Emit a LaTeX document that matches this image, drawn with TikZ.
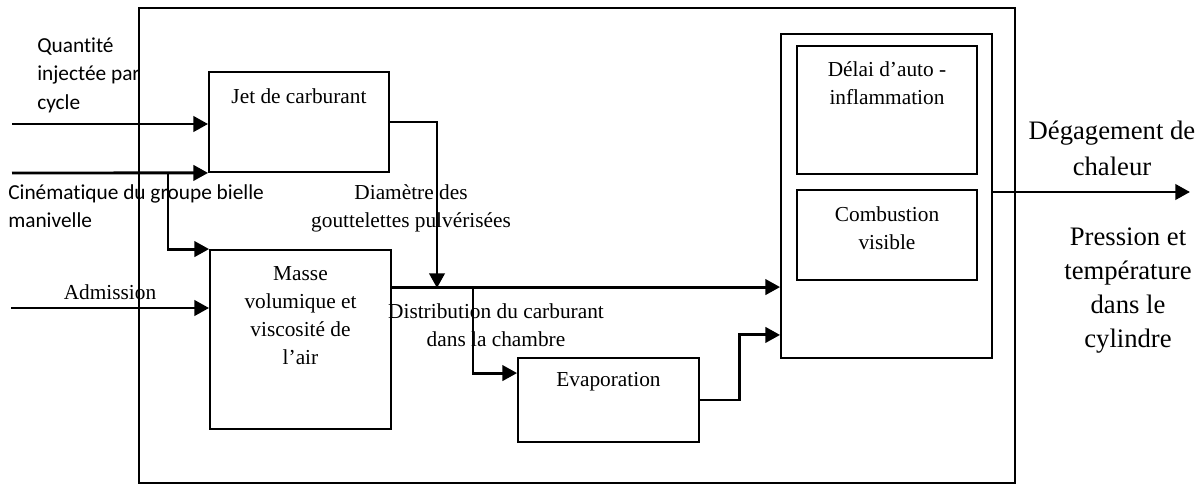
\documentclass[tikz,border=0pt]{standalone}
\usepackage{fontspec}
\setmainfont{Liberation Serif}
\newfontfamily\calibri[Ligatures = NoCommon]{Carlito}
\usepackage{tikz}
\usetikzlibrary{arrows.meta, positioning, calc}

\tikzstyle{boite} = [
    rectangle,
    draw = black,
    line width = 1.4pt,
    inner sep = 0pt,
]
\tikzstyle{texte} = [
    inner sep = 0pt,
    align = center,
    font = \fontsize{16}{21}\selectfont,
]
\tikzstyle{fleche} = [
    line width = 2.2pt,
    -{Triangle[length = 11pt, width = 11.5pt]},
]

\begin{document}
\begin{tikzpicture} [x = 0.75pt, y = -0.75pt]
    \useasboundingbox (0, 0) rectangle (1202, 485);

    \node (Cadre) [boite, minimum width = 657pt, minimum height = 356.25pt] at (577, 245.5) {};

    \node (Jet) [boite, minimum width = 135pt, minimum height = 75pt] at (299, 122) {};
    \node (Masse) [boite, minimum width = 135.75pt, minimum height = 134.25pt] at (300.5, 339.5) {};
    \node (Evaporation) [boite, minimum width = 135.75pt, minimum height = 63pt] at (608.5, 400) {};
    \node (Chambre) [boite, minimum width = 158.25pt, minimum height = 243pt] at (886.5, 196) {};
    \node (Delai) [boite, minimum width = 135pt, minimum height = 96pt] at (887, 110) {};
    \node (Combustion) [boite, minimum width = 135pt, minimum height = 67.5pt] at (887, 235) {};

    % textes des boites
    \node (TexteJet) [texte, below = 12.75pt of Jet.north] {Jet de carburant};
    \node (TexteMasse) [texte, below = 12.75pt of Masse.north] {Masse\\volumique et\\viscosité de\\l’air};
    \node (TexteEvaporation) [texte, below = 11.25pt of Evaporation.north] {Evaporation};
    \node (TexteDelai) [texte, below = 12pt of Delai.north] {Délai d’auto -\\inflammation};
    \node (TexteCombustion) [texte, below = 12.75pt of Combustion.north] {Combustion\\visible};

    % textes des liaisons
    \node (Quantite) [texte, align = left, anchor = west, font = \calibri\fontsize{16}{21.4}\selectfont] at (37, 75) {Quantité\\injectée par\\cycle};
    \node (Cinematique) [texte, align = left, anchor = west, font = \calibri\fontsize{16}{21}\selectfont] at (8, 206) {Cinématique du groupe bielle\\manivelle};
    \node (Admission) [texte] at (110, 292) {Admission};
    \node (Diametre) [texte] at (411, 208) {Diamètre des\\gouttelettes pulvérisées};
    \node (Distribution) [texte] at (496, 325) {Distribution du carburant\\dans la chambre};
    \node (Degagement) [texte, font = \fontsize{20}{27}\selectfont] at (1112, 148) {Dégagement de\\chaleur};
    \node (Pression) [texte, font = \fontsize{20}{25.5}\selectfont] at (1128, 291) {Pression et\\température\\dans le\\cylindre};

    \coordinate (EntreeQuantite) at (12, 124);
    \coordinate (EntreeCinematique) at (12, 173);
    \coordinate (BrancheCinematique) at (168, 173);
    \coordinate (EntreeAdmission) at (11, 308);
    \coordinate (SortieMasse) at ($(Masse.north east) + (0, 38)$);
    \coordinate (Jonction) at (437, 288);
    \coordinate (BrancheDistribution) at (473, 288);
    \coordinate (SortieChaleur) at (1190, 192);

    \draw[fleche] (EntreeQuantite) -- (EntreeQuantite -| Jet.west);
    \draw[fleche] (EntreeCinematique) -- (Jet.south west);
    \draw[fleche] (BrancheCinematique) |- (Masse.north west);
    \draw[fleche] (EntreeAdmission) -- (EntreeAdmission -| Masse.west);
    \draw[fleche] (Jet.east) -| (Jonction);
    \draw[fleche] (SortieMasse) -- (SortieMasse -| Chambre.west);
    \draw[fleche] (BrancheDistribution) |- ($(Evaporation.north west) + (0, 16)$);
    \draw[fleche] (Evaporation.east) -- ++(40, 0) |- ($(Chambre.south west) + (0, -24)$);
    \draw[fleche] (Chambre.east |- SortieChaleur) -- (SortieChaleur);
\end{tikzpicture}
\end{document}
